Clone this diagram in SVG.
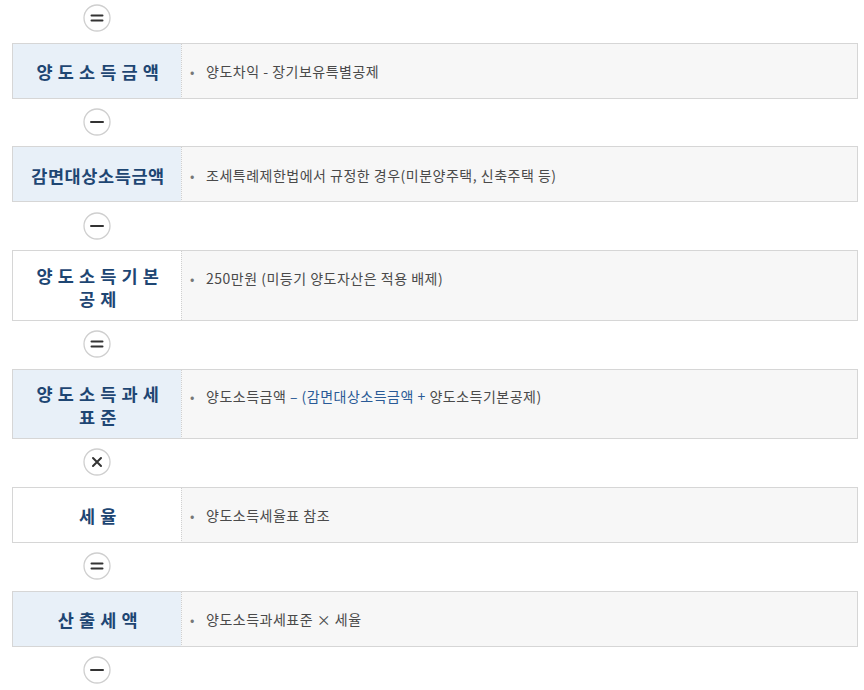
<svg xmlns="http://www.w3.org/2000/svg" width="864" height="690" viewBox="0 0 864 690">
<style>
.box{fill:#f7f7f7;stroke:#d6d6d6;stroke-width:1}
.lb{fill:#e8f0f8}
.lw{fill:#ffffff}
.div{stroke:#d0d0d0;stroke-width:1;stroke-dasharray:1 1}
.lt{font-family:"Noto Sans CJK KR","Noto Sans",sans-serif;font-size:17.5px;font-weight:700;letter-spacing:0.6px;fill:#1e4673;text-anchor:middle;dominant-baseline:central}
.ct{font-family:"Noto Sans CJK KR","Noto Sans",sans-serif;font-size:14px;letter-spacing:0.5px;fill:#4a4a4a;dominant-baseline:central}
.bu{font-family:"Noto Sans CJK KR","Noto Sans",sans-serif;font-size:13px;fill:#777;dominant-baseline:central}
.bl{fill:#2a5a96}
.op circle{fill:#fff;stroke:#cfcfcf;stroke-width:1.3}
.op path{stroke:#333;stroke-width:2;fill:none;stroke-linecap:round}
</style>
<g id="operators" class="op">
<g id="op1"><circle cx="97" cy="18" r="13"/><path d="M91.5 15.5H102.5M91.5 20.5H102.5"/></g>
<g id="op2"><circle cx="97" cy="122" r="13"/><path d="M91 122H103"/></g>
<g id="op3"><circle cx="97" cy="226" r="13"/><path d="M91 226H103"/></g>
<g id="op4"><circle cx="97" cy="344" r="13"/><path d="M91.5 341.5H102.5M91.5 346.5H102.5"/></g>
<g id="op5"><circle cx="97" cy="462" r="13"/><path d="M93 458L101 466M101 458L93 466"/></g>
<g id="op6"><circle cx="97" cy="566" r="13"/><path d="M91.5 563.5H102.5M91.5 568.5H102.5"/></g>
<g id="op7"><circle cx="97" cy="670" r="13"/><path d="M91 670H103"/></g>
</g>
<g id="row1">
<rect class="box" x="12.5" y="43.5" width="845" height="55"/>
<rect class="lb" x="13" y="44" width="168" height="54"/>
<line class="div" x1="181.5" y1="44" x2="181.5" y2="98"/>
<text class="lt" x="98" y="71">양 도 소 득 금 액</text>
<text class="bu" x="190" y="71">•</text>
<text class="ct" x="206" y="71">양도차익 - 장기보유특별공제</text>
</g>
<g id="row2">
<rect class="box" x="12.5" y="146.5" width="845" height="55"/>
<rect class="lb" x="13" y="147" width="168" height="54"/>
<line class="div" x1="181.5" y1="147" x2="181.5" y2="201"/>
<text class="lt" x="98" y="175">감면대상소득금액</text>
<text class="bu" x="190" y="175">•</text>
<text class="ct" x="206" y="175">조세특례제한법에서 규정한 경우(미분양주택, 신축주택 등)</text>
</g>
<g id="row3">
<rect class="box" x="12.5" y="250.5" width="845" height="70"/>
<rect class="lw" x="13" y="251" width="168" height="69"/>
<line class="div" x1="181.5" y1="251" x2="181.5" y2="320"/>
<text class="lt" x="98" y="275">양 도 소 득 기 본</text>
<text class="lt" x="98" y="298">공 제</text>
<text class="bu" x="190" y="278">•</text>
<text class="ct" x="206" y="278">250만원 (미등기 양도자산은 적용 배제)</text>
</g>
<g id="row4">
<rect class="box" x="12.5" y="369.5" width="845" height="69"/>
<rect class="lb" x="13" y="370" width="168" height="68"/>
<line class="div" x1="181.5" y1="370" x2="181.5" y2="438"/>
<text class="lt" x="98" y="393">양 도 소 득 과 세</text>
<text class="lt" x="98" y="416">표 준</text>
<text class="bu" x="190" y="396">•</text>
<text class="ct" x="206" y="396">양도소득금액 <tspan class="bl">– (감면대상소득금액 +</tspan> 양도소득기본공제)</text>
</g>
<g id="row5">
<rect class="box" x="12.5" y="487.5" width="845" height="55"/>
<rect class="lw" x="13" y="488" width="168" height="54"/>
<line class="div" x1="181.5" y1="488" x2="181.5" y2="542"/>
<text class="lt" x="98" y="515">세 율</text>
<text class="bu" x="190" y="515">•</text>
<text class="ct" x="206" y="515">양도소득세율표 참조</text>
</g>
<g id="row6">
<rect class="box" x="12.5" y="591.5" width="845" height="55"/>
<rect class="lb" x="13" y="592" width="168" height="54"/>
<line class="div" x1="181.5" y1="592" x2="181.5" y2="646"/>
<text class="lt" x="98" y="619">산 출 세 액</text>
<text class="bu" x="190" y="619">•</text>
<text class="ct" x="206" y="619">양도소득과세표준 × 세율</text>
</g>
</svg>
